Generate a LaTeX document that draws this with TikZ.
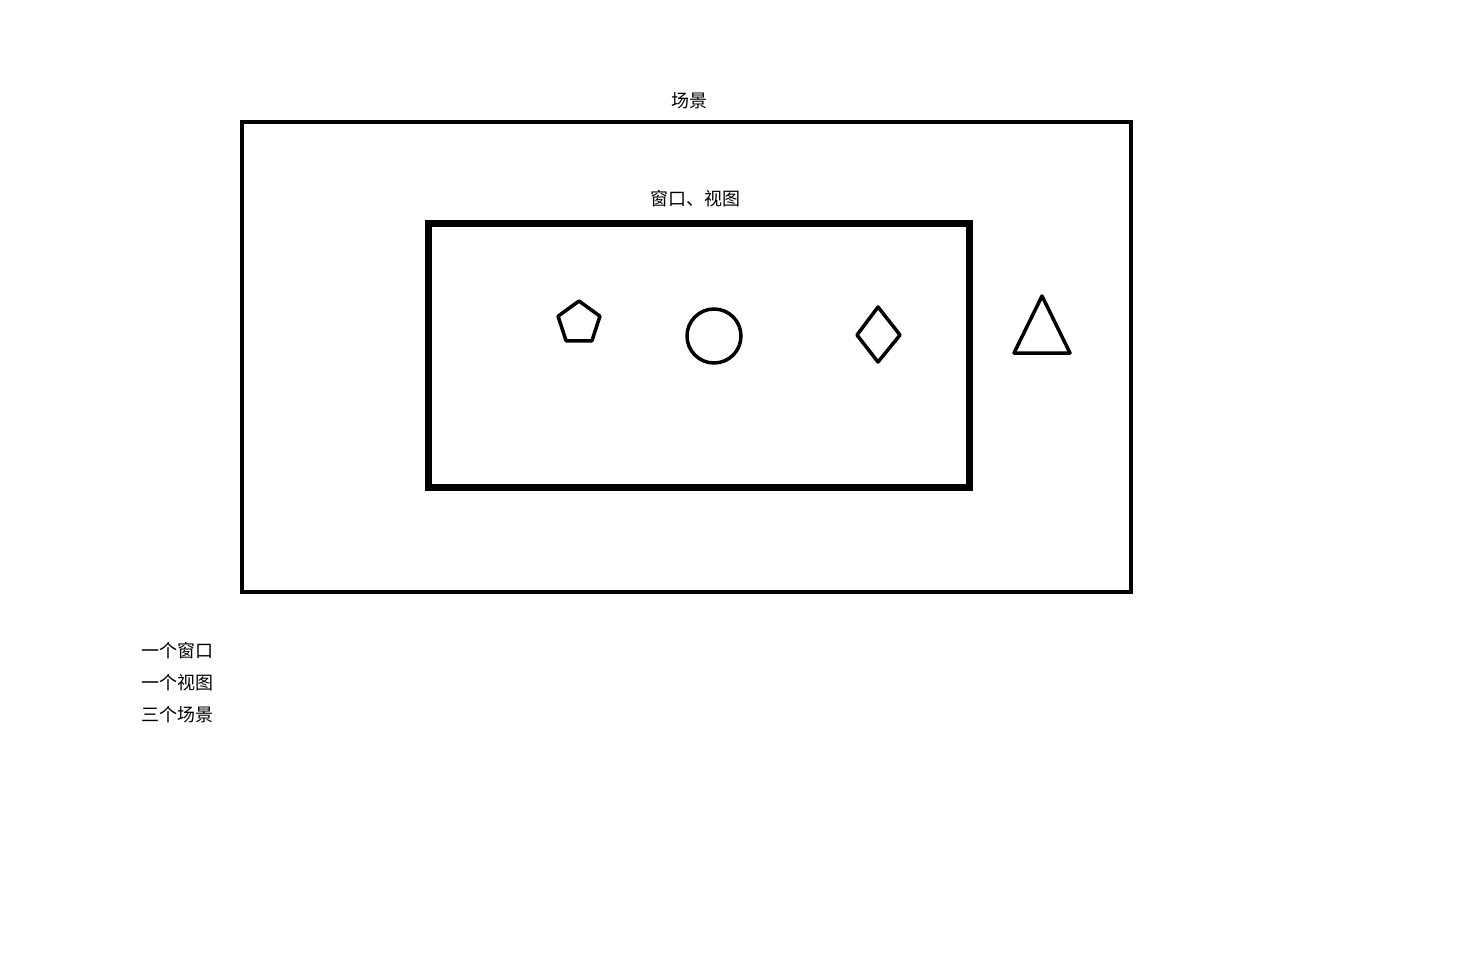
\documentclass[tikz,border=0pt]{standalone}
\usepackage{fontspec}
\newfontfamily\cjk{Noto Sans CJK SC}
\usetikzlibrary{positioning}

\begin{document}
\begin{tikzpicture}[x=1pt, y=-1pt,
        every node/.style ={font=\cjk\fontsize{18}{21}\selectfont, inner sep=0pt},
        Scene/.style     ={draw=black, line width=4pt},
        Window/.style    ={draw=black, line width=7pt},
        Item/.style      ={draw=black, line width=3.5pt, line join=round},
    ]
\useasboundingbox (0,0) rectangle (1474,957);

% Frames

\draw [Scene] (242,122) rectangle (1131,592);
\draw [Window] (428,224) rectangle (969,487);

% Labels

\node (scene)  at (689,101) {场景};
\node (window) at (695,199) {窗口、视图};
\node (one)  [anchor=west] at (141,651) {一个窗口};
\node (two)  [below=15pt of one.south west, anchor=north west] {一个视图};
\node (three)[below=15pt of two.south west, anchor=north west] {三个场景};

% Items

\draw [Item] (579,323) +(-90:22) -- +(-162:22) -- +(-234:22) -- +(-306:22) -- +(-18:22) -- cycle;
\draw [Item] (714,336) circle (27);
\draw [Item] (878,307) -- (900,335) -- (878,362) -- (857,335) -- cycle;
\draw [Item] (1042,296) -- (1070,353) -- (1014,353) -- cycle;

\end{tikzpicture}
\end{document}
